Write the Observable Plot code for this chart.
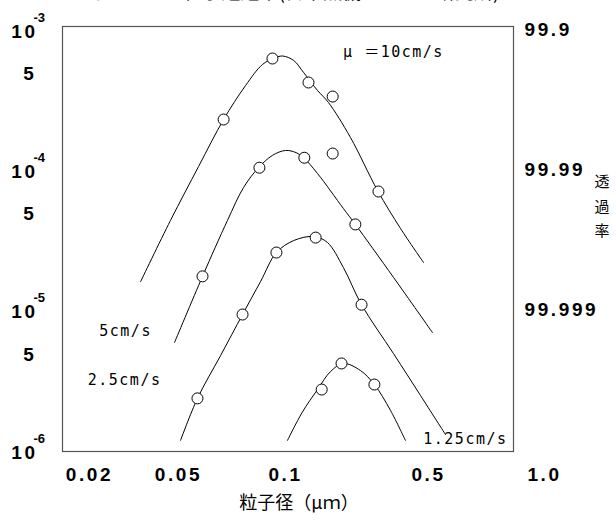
<!DOCTYPE html>
<html><head><meta charset="utf-8">
<script src="https://cdn.jsdelivr.net/npm/d3@7"></script>
<script src="https://cdn.jsdelivr.net/npm/@observablehq/plot@0.6"></script>
<style>
body{margin:0;background:#fff;width:616px;height:520px;overflow:hidden;position:relative;}
#title{position:absolute;left:-6px;top:-23px;font:19px "Noto Sans CJK JP";white-space:nowrap;color:#000;}
#chart{position:absolute;left:0;top:0;}
g[aria-description="num-labels"] text{letter-spacing:2.6px;}
g[aria-description="series-labels"] text{letter-spacing:1.5px;}
</style></head><body>
<div id="title">ＨＥＰＡフィルターの粒子透過率(日本無機・テクノ研究所)</div>
<div id="chart"></div>
<script>
// tick values and labels
const xTicks = [0.02, 0.05, 0.1, 0.5, 1.0];
const xTickLabels = ["0.02", "0.05", "0.1", "0.5", "1.0"];
const yDecades = [1e-3, 1e-4, 1e-5, 1e-6];
const yDecadeExp = ["-3", "-4", "-5", "-6"];
const yFives = [5e-4, 5e-5, 5e-6];
const rightTicks = [1e-3, 1e-4, 1e-5];
const rightLabels = ["99.9", "99.99", "99.999"];

// series names
const seriesNames = ["10", "5", "2.5", "1.25"];

// fitted curves (particle size um, penetration)
const curve10X = [0.0342,0.0465,0.0573,0.0674,0.0777,0.0867,0.0931,0.0987,0.111,0.124,0.145,0.164,0.210,0.285,0.369,0.478];
const curve10Y = [1.65e-5,4.50e-5,1.09e-4,2.36e-4,4.12e-4,5.82e-4,6.42e-4,6.69e-4,6.21e-4,5.10e-4,3.80e-4,3.12e-4,1.76e-4,7.36e-5,3.95e-5,2.26e-5];
const curve5X = [0.0485,0.0588,0.0691,0.0767,0.0845,0.0925,0.1011,0.114,0.124,0.145,0.194,0.222,0.341,0.515];
const curve5Y = [6.08e-6,1.80e-5,4.50e-5,7.73e-5,1.07e-4,1.31e-4,1.42e-4,1.37e-4,1.26e-4,9.73e-5,5.48e-5,4.22e-5,1.77e-5,7.16e-6];
const curve25X = [0.0510,0.0569,0.0661,0.0762,0.0856,0.0949,0.111,0.139,0.162,0.194,0.238,0.341,0.462,0.557];
const curve25Y = [1.22e-6,2.43e-6,4.91e-6,9.62e-6,1.65e-5,2.66e-5,3.24e-5,3.46e-5,3.14e-5,2.08e-5,1.13e-5,5.07e-6,2.55e-6,1.34e-6];
const curve125X = [0.1034,0.122,0.145,0.168,0.194,0.235,0.275,0.330,0.390];
const curve125Y = [1.22e-6,1.93e-6,2.81e-6,3.78e-6,4.31e-6,3.84e-6,3.05e-6,1.99e-6,1.22e-6];

// measured points
const pts10X = [0.0674,0.0925,0.131,0.172,0.288];
const pts10Y = [2.36e-4,6.42e-4,4.33e-4,3.44e-4,7.24e-5];
const pts5X = [0.0588,0.0850,0.125,0.172,0.222];
const pts5Y = [1.80e-5,1.07e-4,1.26e-4,1.35e-4,4.22e-5];
const pts25X = [0.0569,0.0762,0.0949,0.142,0.238];
const pts25Y = [2.43e-6,9.62e-6,2.66e-5,3.40e-5,1.13e-5];
const pts125X = [0.152,0.190,0.275];
const pts125Y = [2.81e-6,4.31e-6,3.05e-6];

// series labels (text, x, y in data units)
const labelTexts = ["μ ＝10cm/s", "5cm/s", "2.5cm/s", "1.25cm/s"];
const labelX = [0.341, 0.0293, 0.0290, 0.627];
const labelY = [7.09e-4, 7.28e-6, 3.26e-6, 1.24e-6];

const curvesX = [curve10X, curve5X, curve25X, curve125X];
const curvesY = [curve10Y, curve5Y, curve25Y, curve125Y];
const ptsX = [pts10X, pts5X, pts25X, pts125X];
const ptsY = [pts10Y, pts5Y, pts25Y, pts125Y];

const curveData = seriesNames.flatMap((s, i) => curvesX[i].map((x, j) => ({s, x, y: curvesY[i][j]})));
const pointData = seriesNames.flatMap((s, i) => ptsX[i].map((x, j) => ({s, x, y: ptsY[i][j]})));
const labelData = labelTexts.map((t, i) => ({t, x: labelX[i], y: labelY[i]}));

const numFont = {fontFamily: "'Liberation Sans', Arial, sans-serif", fontWeight: "bold", fill: "#000"};

const chart = Plot.plot({
  width: 616,
  height: 520,
  marginLeft: 62,
  marginRight: 103,
  marginTop: 26,
  marginBottom: 69,
  style: {background: "transparent", overflow: "visible"},
  x: {type: "log", domain: xTicks, range: [88, 177, 284, 427, 543], axis: null},
  y: {type: "log", domain: [1e-6, 1e-3], range: [452, 31], axis: null},
  marks: [
    Plot.frame({stroke: "#555", strokeWidth: 1.2}),
    Plot.line(curveData, {x: "x", y: "y", z: "s", curve: "catmull-rom", stroke: "#000", strokeWidth: 1}),
    Plot.dot(pointData, {x: "x", y: "y", r: 5.5, fill: "#fff", stroke: "#000", strokeWidth: 1}),
    // left axis labels
    Plot.text(yDecades, {y: d => d, text: () => "10", frameAnchor: "left", dx: -38, textAnchor: "middle", fontSize: 19, ...numFont, ariaDescription: "num-labels"}),
    Plot.text(yDecades, {y: d => d, text: yDecadeExp, frameAnchor: "left", dx: -29, dy: -14, textAnchor: "start", fontSize: 13, ...numFont}),
    Plot.text(yFives, {y: d => d, text: () => "5", frameAnchor: "left", dx: -34, textAnchor: "middle", fontSize: 19, ...numFont}),
    // right axis labels
    Plot.text(rightTicks, {y: d => d, text: rightLabels, frameAnchor: "right", dx: 11, dy: -2, textAnchor: "start", fontSize: 19, ...numFont, ariaDescription: "num-labels"}),
    // x axis labels
    Plot.text(xTicks, {x: d => d, text: xTickLabels, frameAnchor: "bottom", dy: 29, dx: 1, textAnchor: "middle", fontSize: 19, ...numFont, ariaDescription: "num-labels"}),
    // axis titles
    Plot.text(["粒子径（μｍ）"], {text: d => d, frameAnchor: "bottom", dx: 11, dy: 57, fontSize: 18, fontFamily: "'Noto Sans CJK JP', sans-serif", fill: "#000"}),
    Plot.text(["透\n過\n率"], {text: d => d, frameAnchor: "right", dx: 96, dy: -35, lineHeight: 1.62, fontSize: 15, fontFamily: "'Noto Sans CJK JP', sans-serif", fill: "#000"}),
    // series labels
    Plot.text(labelData, {x: "x", y: "y", text: "t", fontSize: 15, fontFamily: "'DejaVu Sans Mono', 'Noto Sans CJK JP', monospace", fill: "#000", ariaDescription: "series-labels"})
  ]
});
document.getElementById("chart").appendChild(chart);
</script>
</body></html>
